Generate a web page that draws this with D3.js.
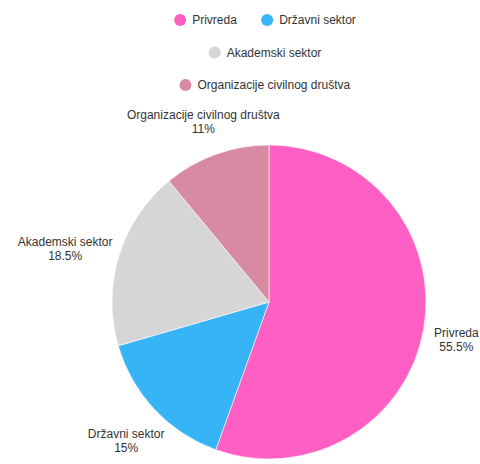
<!DOCTYPE html>
<html><head><meta charset="utf-8">
<script src="https://cdn.jsdelivr.net/npm/d3@7"></script>
<style>body{margin:0;background:#fff}svg{display:block}text{font-family:"Liberation Sans",Arial,sans-serif}</style>
</head><body><svg id="c" width="480" height="464"></svg>
<script>
const categories = ["Privreda", "Državni sektor", "Akademski sektor", "Organizacije civilnog društva"];
const values = [55.5, 15, 18.5, 11];
const valueLabels = ["55.5%", "15%", "18.5%", "11%"];
const colors = ["#ff5ec3", "#36b4f6", "#d6d6d6", "#d98aa3"];

const svg = d3.select("#c");
const cx = 269, cy = 302, R = 157;

const pie = d3.pie().sort(null).value(d => d.v);
const data = pie(categories.map((c, i) => ({c, v: values[i], l: valueLabels[i], col: colors[i]})));
const arc = d3.arc().innerRadius(0).outerRadius(R);
const g = svg.append("g").attr("transform", `translate(${cx},${cy})`);
g.selectAll("path").data(data).join("path")
  .attr("d", arc).attr("fill", d => d.data.col)
  .attr("stroke", "#fff").attr("stroke-width", 0.6);

// labels
const lr = R + 11;
const fs = 12;
data.forEach(d => {
  const a = (d.startAngle + d.endAngle) / 2;
  const sx = Math.sin(a), sy = -Math.cos(a);
  const px = sx * lr, py = sy * lr;
  const t = g.append("text").attr("text-anchor", "middle").attr("font-size", fs).attr("fill", "#333");
  t.append("tspan").attr("x", 0).attr("dy", 0).text(d.data.c);
  t.append("tspan").attr("x", 0).attr("dy", 14).text(d.data.l);
  const w = t.node().getBBox().width;
  const bx = px + sx * Math.abs(sx) * w / 2;
  const by = py + 6 + 28 * sy;
  t.attr("transform", `translate(${bx},${by - 4.5})`);
});

// legend
const legend = svg.append("g");
const maxW = 200, gap = 24, rowH = 32.5, y0 = 20, lcx = 265;
const items = categories.map((c, i) => {
  const gi = legend.append("g");
  gi.append("circle").attr("cx", 6).attr("cy", 0).attr("r", 6).attr("fill", colors[i]);
  gi.append("text").attr("x", 18).attr("y", 4).attr("font-size", fs).attr("fill", "#333").text(c);
  return {gi, w: gi.node().getBBox().width};
});
const rows = [];
let cur = [], cw = 0;
items.forEach(it => {
  const add = cur.length ? gap + it.w : it.w;
  if (cur.length && cw + add > maxW) { rows.push({cur, cw}); cur = [it]; cw = it.w; }
  else { cur.push(it); cw += add; }
});
rows.push({cur, cw});
rows.forEach((r, ri) => {
  let x = lcx - r.cw / 2;
  r.cur.forEach(it => {
    it.gi.attr("transform", `translate(${x},${y0 + ri * rowH})`);
    x += it.w + gap;
  });
});
</script></body></html>
